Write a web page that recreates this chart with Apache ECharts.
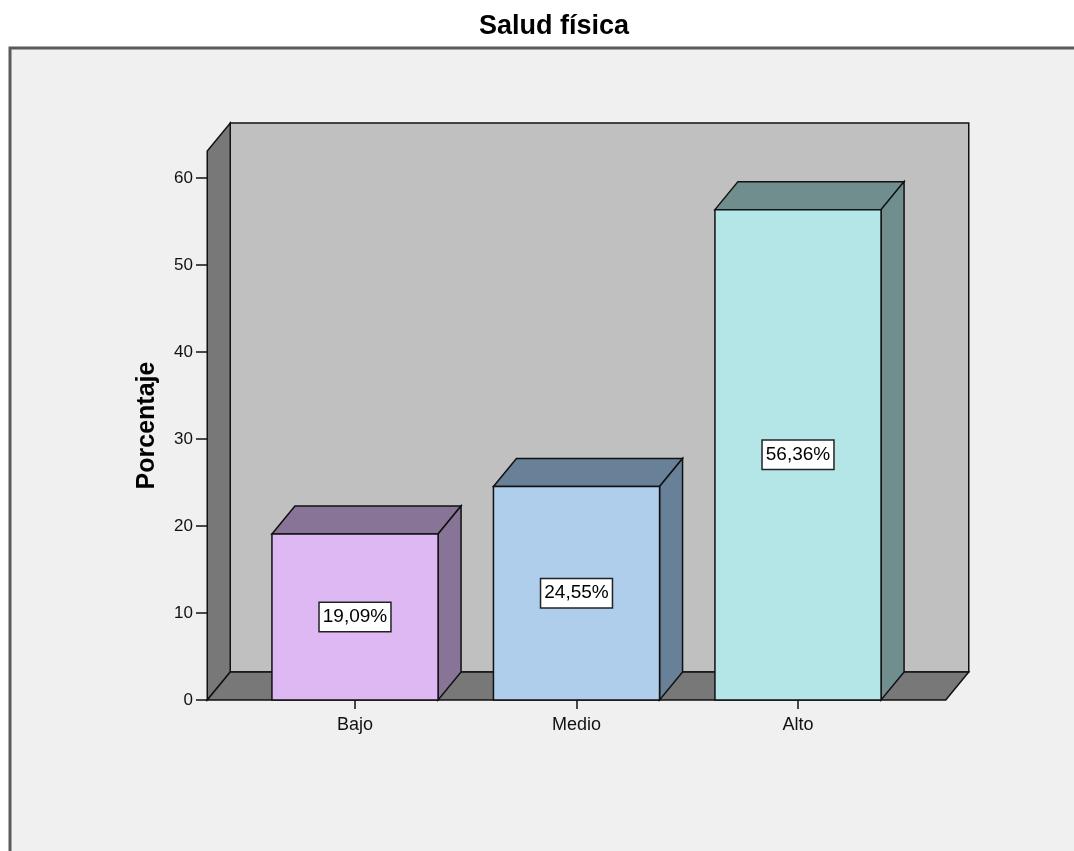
<!DOCTYPE html>
<html>
<head>
<meta charset="utf-8">
<script src="https://cdn.jsdelivr.net/npm/echarts@6/dist/echarts.min.js"></script>
<style>
html,body{margin:0;padding:0;background:#fff;}
#chart{width:1074px;height:851px;}
</style>
</head>
<body>
<div id="chart"></div>
<script>
// ---- data ----
const categories = ['Bajo', 'Medio', 'Alto'];
const percentages = [19.09, 24.55, 56.36];
const yTicks = [0, 10, 20, 30, 40, 50, 60];

// ---- styles ----
const frontColors = ['#DEB8F2', '#AECEEC', '#B4E6E8'];
const darkColors = ['#877496', '#688098', '#708E8E'];
const FONT = 'Liberation Sans, Arial, sans-serif';
const DX = 23, DY = 28, EXT = 37;

const chart = echarts.init(document.getElementById('chart'), null, {renderer: 'canvas'});

function wallsRender(params, api) {
  const cs = params.coordSys;
  const x0 = cs.x - EXT, x1 = cs.x + cs.width + EXT;
  const yb = api.coord([0, 0])[1];
  const yt = cs.y;
  const ln = {stroke: '#111', lineWidth: 1.5};
  return {
    type: 'group',
    children: [
      {type: 'polygon', shape: {points: [[x0 + DX, yt - DY], [x1 + DX, yt - DY], [x1 + DX, yb - DY], [x0 + DX, yb - DY]]},
        style: Object.assign({fill: '#C0C0C0'}, ln)},
      {type: 'polygon', shape: {points: [[x0, yb], [x0, yt], [x0 + DX, yt - DY], [x0 + DX, yb - DY]]},
        style: Object.assign({fill: '#787878'}, ln)},
      {type: 'polygon', shape: {points: [[x0, yb], [x0 + DX, yb - DY], [x1 + DX, yb - DY], [x1, yb]]},
        style: Object.assign({fill: '#787878'}, ln)}
    ]
  };
}

function barRender(params, api) {
  const idx = api.value(0);
  const val = api.value(1);
  const top = api.coord([idx, val]);
  const base = api.coord([idx, 0]);
  const w = api.size([1, 0])[0] * 0.75;
  const xl = top[0] - w / 2, xr = top[0] + w / 2;
  const yt = top[1], yb = base[1];
  const ln = {stroke: '#111', lineWidth: 1.5};
  return {
    type: 'group',
    children: [
      {type: 'polygon', shape: {points: [[xl, yt], [xl + DX, yt - DY], [xr + DX, yt - DY], [xr, yt]]},
        style: Object.assign({fill: darkColors[idx]}, ln)},
      {type: 'polygon', shape: {points: [[xr, yt], [xr + DX, yt - DY], [xr + DX, yb - DY], [xr, yb]]},
        style: Object.assign({fill: darkColors[idx]}, ln)},
      {type: 'rect', shape: {x: xl, y: yt, width: w, height: yb - yt},
        style: Object.assign({fill: frontColors[idx]}, ln)},
      {type: 'text', x: top[0], y: (yt + yb) / 2,
        style: {text: val.toFixed(2).replace('.', ',') + '%', fill: '#000', font: '19px ' + FONT,
          align: 'center', verticalAlign: 'middle', backgroundColor: '#fff', borderColor: '#222',
          borderWidth: 1.5, padding: [5, 3, 4, 3]}}
    ]
  };
}

const option = {
  backgroundColor: '#ffffff',
  animation: false,
  title: {
    text: 'Salud física', left: 549, top: 8, textAlign: 'center',
    textStyle: {fontFamily: FONT, fontSize: 27, fontWeight: 'bold', color: '#000'}
  },
  graphic: [
    {type: 'rect', z: -10, shape: {x: 10, y: 48, width: 1100, height: 900},
      style: {fill: '#F0F0F0', stroke: '#5a5a5a', lineWidth: 3}}
  ],
  grid: {left: 244.25, width: 664.5, top: 151, height: 549},
  xAxis: {
    type: 'category', data: categories,
    axisLine: {show: false},
    axisTick: {show: true, alignWithLabel: true, length: 9, lineStyle: {color: '#111', width: 1.5}},
    axisLabel: {fontFamily: FONT, fontSize: 18, color: '#111', margin: 16}
  },
  yAxis: {
    type: 'value', min: 0, max: 63.1, interval: 10, offset: 36.25,
    name: 'Porcentaje', nameLocation: 'middle', nameGap: 48, nameRotate: 90,
    nameTextStyle: {fontFamily: FONT, fontSize: 25, fontWeight: 'bold', color: '#000'},
    axisLine: {show: false},
    axisTick: {show: true, length: 12, customValues: yTicks, lineStyle: {color: '#111', width: 1.5}},
    axisLabel: {fontFamily: FONT, fontSize: 17, color: '#111', margin: 15, customValues: yTicks},
    splitLine: {show: false}
  },
  series: [
    {type: 'custom', renderItem: wallsRender, data: [[0, 0]], z: 1, silent: true},
    {type: 'custom', renderItem: barRender, z: 2,
      data: categories.map((c, i) => [i, percentages[i]])}
  ]
};
chart.setOption(option);
</script>
</body>
</html>
